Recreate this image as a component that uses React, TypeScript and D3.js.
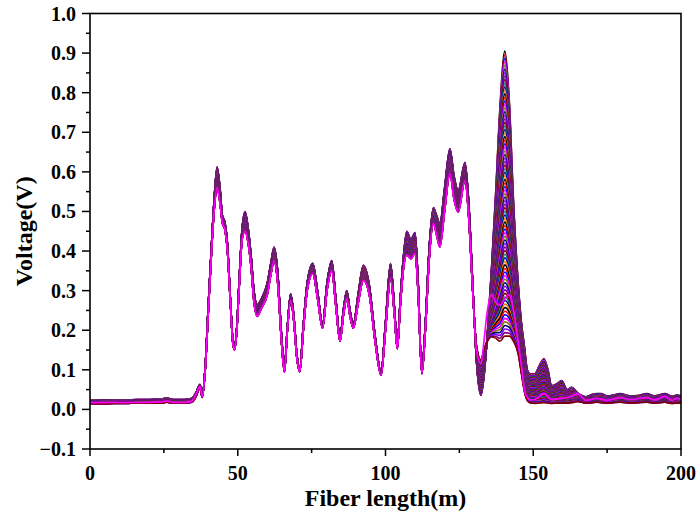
import * as d3 from 'd3'
import { useEffect, useRef } from 'react'

// fiber position (m)
const xs = [
	0, 4, 8, 12, 16, 20, 24, 26, 28, 32,
	34.5, 36, 37.2, 38, 39, 40, 41, 42, 43, 44,
	44.8, 45.6, 46.5, 47.5, 48.3, 48.9, 49.6, 50.5, 51.5, 52.5,
	53.5, 54.5, 55.5, 56.6, 58, 60, 61.2, 62.3, 63.5, 64.8,
	65.8, 66.8, 67.9, 69, 70, 71, 72.2, 73.5, 75.4, 77,
	78.7, 80.2, 81.8, 83.2, 84.6, 85.8, 86.9, 88, 89.1, 90.8,
	92.5, 94.5, 96.5, 98.5, 100, 101.7, 103, 104, 105, 106,
	107.2, 108.6, 110, 111, 112.3, 113.5, 114.8, 116.2, 117.3, 118.4,
	120, 121.8, 123.2, 124.6, 126.9, 128.2, 129.5, 130.8, 132.3, 133.3,
	134.3, 135.9, 137.3, 138.7, 140.4, 141.9, 143.3, 144.9, 146, 147,
	148, 149, 150.5, 152, 153.6, 155, 156.2, 158, 159.6, 161.5,
	163, 165, 167.8, 170, 171.5, 173, 174.9, 177, 179.4, 182.8,
	185.5, 188.4, 191, 194.6, 197, 198.6, 200,
]

// lower edge of the trace bundle (V)
const lowV = [
	0.015, 0.014, 0.015, 0.015, 0.016, 0.016, 0.016, 0.018, 0.016, 0.016,
	0.018, 0.035, 0.055, 0.03, 0.1, 0.24, 0.38, 0.5, 0.56, 0.52,
	0.47, 0.455, 0.4, 0.27, 0.17, 0.15, 0.19, 0.31, 0.43, 0.45,
	0.42, 0.36, 0.27, 0.235, 0.255, 0.29, 0.34, 0.375, 0.32, 0.17,
	0.094, 0.2, 0.275, 0.22, 0.13, 0.095, 0.2, 0.3, 0.343, 0.28,
	0.205, 0.3, 0.35, 0.26, 0.172, 0.24, 0.28, 0.235, 0.205, 0.27,
	0.326, 0.29, 0.17, 0.086, 0.2, 0.33, 0.24, 0.153, 0.26, 0.35,
	0.39, 0.38, 0.394, 0.3, 0.09, 0.2, 0.38, 0.47, 0.44, 0.41,
	0.5, 0.596, 0.53, 0.498, 0.578, 0.48, 0.3, 0.16, 0.125, 0.15,
	0.17, 0.183, 0.18, 0.172, 0.185, 0.185, 0.172, 0.14, 0.09, 0.045,
	0.022, 0.016, 0.015, 0.016, 0.017, 0.016, 0.015, 0.016, 0.016, 0.016,
	0.017, 0.02, 0.016, 0.017, 0.018, 0.017, 0.016, 0.017, 0.018, 0.016,
	0.017, 0.018, 0.016, 0.018, 0.015, 0.016, 0.016,
]

// upper edge of the trace bundle (V)
const topV = [
	0.024, 0.023, 0.024, 0.024, 0.025, 0.025, 0.026, 0.029, 0.025, 0.025,
	0.028, 0.045, 0.063, 0.04, 0.11, 0.26, 0.4, 0.53, 0.613, 0.56,
	0.49, 0.475, 0.42, 0.28, 0.18, 0.16, 0.2, 0.33, 0.46, 0.5,
	0.46, 0.39, 0.3, 0.265, 0.28, 0.32, 0.37, 0.41, 0.35, 0.19,
	0.105, 0.21, 0.292, 0.235, 0.14, 0.105, 0.215, 0.32, 0.369, 0.3,
	0.215, 0.32, 0.376, 0.28, 0.182, 0.255, 0.3, 0.25, 0.215, 0.295,
	0.364, 0.315, 0.185, 0.095, 0.22, 0.369, 0.26, 0.162, 0.28, 0.38,
	0.45, 0.43, 0.447, 0.33, 0.1, 0.22, 0.41, 0.51, 0.49, 0.47,
	0.56, 0.659, 0.59, 0.553, 0.624, 0.52, 0.32, 0.12, 0.035, 0.08,
	0.17, 0.36, 0.55, 0.76, 0.905, 0.78, 0.53, 0.32, 0.22, 0.16,
	0.1, 0.09, 0.09, 0.11, 0.128, 0.1, 0.06, 0.065, 0.073, 0.05,
	0.056, 0.042, 0.032, 0.038, 0.04, 0.04, 0.034, 0.036, 0.04, 0.034,
	0.035, 0.04, 0.034, 0.04, 0.033, 0.036, 0.034,
]

// last (magenta) trace drawn on top (V)
const pinkV = [
	0.018, 0.017, 0.018, 0.017, 0.018, 0.018, 0.019, 0.021, 0.018, 0.018,
	0.021, 0.04, 0.058, 0.032, 0.1, 0.24, 0.38, 0.5, 0.56, 0.52,
	0.47, 0.455, 0.4, 0.27, 0.17, 0.15, 0.19, 0.31, 0.43, 0.45,
	0.42, 0.36, 0.27, 0.235, 0.255, 0.29, 0.34, 0.375, 0.32, 0.17,
	0.094, 0.2, 0.275, 0.22, 0.13, 0.095, 0.2, 0.3, 0.343, 0.28,
	0.205, 0.3, 0.35, 0.26, 0.172, 0.24, 0.28, 0.235, 0.205, 0.27,
	0.326, 0.29, 0.17, 0.086, 0.2, 0.33, 0.24, 0.153, 0.26, 0.35,
	0.39, 0.38, 0.394, 0.3, 0.09, 0.2, 0.38, 0.47, 0.44, 0.41,
	0.5, 0.596, 0.53, 0.498, 0.578, 0.48, 0.3, 0.15, 0.116, 0.17,
	0.24, 0.29, 0.27, 0.263, 0.28, 0.29, 0.25, 0.17, 0.11, 0.05,
	0.03, 0.024, 0.025, 0.032, 0.04, 0.032, 0.025, 0.026, 0.028, 0.03,
	0.034, 0.04, 0.023, 0.026, 0.028, 0.026, 0.023, 0.026, 0.03, 0.025,
	0.027, 0.03, 0.024, 0.033, 0.023, 0.028, 0.025,
]

// position of each recorded trace inside the bundle (0 = lower edge, 1 = upper edge)
const traceLevels = [
	1, 0.9875, 0.975, 0.9625, 0.95, 0.9375, 0.925, 0.9125, 0.9, 0.8875,
	0.875, 0.8625, 0.85, 0.8375, 0.825, 0.8125, 0.8, 0.7875, 0.775, 0.7625,
	0.75, 0.7375, 0.725, 0.7125, 0.7, 0.6875, 0.675, 0.6625, 0.65, 0.6375,
	0.625, 0.6125, 0.6, 0.5875, 0.575, 0.5625, 0.55, 0.5375, 0.525, 0.5125,
	0.5, 0.4875, 0.475, 0.4625, 0.45, 0.4375, 0.425, 0.4125, 0.4, 0.3875,
	0.375, 0.3625, 0.35, 0.3375, 0.325, 0.3125, 0.3, 0.2875, 0.275, 0.2625,
	0.25, 0.2375, 0.225, 0.2125, 0.2, 0.1875, 0.175, 0.1625, 0.15, 0.1375,
	0.125, 0.1125, 0.1, 0.0875, 0.075, 0.0625, 0.05, 0.0375, 0.025, 0.0125, 0,
]

// Origin style colour increment list
const traceColors = [
	'#000000', '#FF0000', '#0000FF', '#FF00FF', '#808000', '#000080',
	'#8000FF', '#800080', '#800000', '#008080', '#0000A0', '#FF8000',
]

const yTicks = [-0.1, 0, 0.1, 0.2, 0.3, 0.4, 0.5, 0.6, 0.7, 0.8, 0.9, 1.0]
const xTicks = [0, 50, 100, 150, 200]

const Chart = () => {
	const svgRef = useRef<SVGSVGElement>(null)

	const width = 697
	const height = 521
	const marginLeft = 90
	const marginRight = 16
	const marginTop = 13.5
	const marginBottom = 72

	useEffect(() => {
		d3.select(svgRef.current).selectAll('*').remove()
		const svg = d3.select(svgRef.current).attr('width', width).attr('height', height)

		const x = d3.scaleLinear().domain([0, 200]).range([marginLeft, width - marginRight])
		const y = d3.scaleLinear().domain([-0.1, 1.0]).range([height - marginBottom, marginTop])

		svg.append('clipPath')
			.attr('id', 'plot-clip')
			.append('rect')
			.attr('x', marginLeft)
			.attr('y', marginTop)
			.attr('width', width - marginLeft - marginRight)
			.attr('height', height - marginTop - marginBottom)

		const line = d3
			.line<number>()
			.curve(d3.curveMonotoneX)
			.x((_, i) => x(xs[i]))
			.y((d) => y(d))

		const g = svg.append('g').attr('clip-path', 'url(#plot-clip)')

		// traces
		traceLevels.forEach((w, k) => {
			const vals = xs.map((_, i) => lowV[i] + w * (topV[i] - lowV[i]))
			g.append('path')
				.attr('d', line(vals))
				.attr('fill', 'none')
				.attr('stroke', traceColors[k % traceColors.length])
				.attr('stroke-width', 1.6)
		})
		g.append('path')
			.attr('d', line(pinkV))
			.attr('fill', 'none')
			.attr('stroke', '#FF00FF')
			.attr('stroke-width', 1.7)

		// frame
		svg.append('rect')
			.attr('x', marginLeft)
			.attr('y', marginTop)
			.attr('width', width - marginLeft - marginRight)
			.attr('height', height - marginTop - marginBottom)
			.attr('fill', 'none')
			.attr('stroke', '#000')
			.attr('stroke-width', 1.6)

		const font = '"Liberation Serif", "Times New Roman", serif'

		// y axis
		const yAxis = svg.append('g')
		yTicks.forEach((t) => {
			yAxis.append('line')
				.attr('x1', marginLeft - 8).attr('x2', marginLeft)
				.attr('y1', y(t)).attr('y2', y(t))
				.attr('stroke', '#000').attr('stroke-width', 1.5)
			yAxis.append('text')
				.attr('x', marginLeft - 14)
				.attr('y', y(t))
				.attr('dy', '0.35em')
				.attr('text-anchor', 'end')
				.attr('font-family', font)
				.attr('font-weight', 'bold')
				.attr('font-size', 20)
				.text(d3.format('.1f')(t))
		})
		yTicks.slice(0, -1).forEach((t) => {
			yAxis.append('line')
				.attr('x1', marginLeft - 4).attr('x2', marginLeft)
				.attr('y1', y(t + 0.05)).attr('y2', y(t + 0.05))
				.attr('stroke', '#000').attr('stroke-width', 1.5)
		})

		// x axis
		const xAxis = svg.append('g')
		const base = height - marginBottom
		xTicks.forEach((t) => {
			xAxis.append('line')
				.attr('x1', x(t)).attr('x2', x(t))
				.attr('y1', base).attr('y2', base + 7)
				.attr('stroke', '#000').attr('stroke-width', 1.5)
			xAxis.append('text')
				.attr('x', x(t))
				.attr('y', base + 31)
				.attr('text-anchor', 'middle')
				.attr('font-family', font)
				.attr('font-weight', 'bold')
				.attr('font-size', 20)
				.text(t)
		})
		xTicks.slice(0, -1).forEach((t) => {
			xAxis.append('line')
				.attr('x1', x(t + 25)).attr('x2', x(t + 25))
				.attr('y1', base).attr('y2', base + 4)
				.attr('stroke', '#000').attr('stroke-width', 1.5)
		})

		// titles
		svg.append('text')
			.attr('x', (marginLeft + width - marginRight) / 2)
			.attr('y', 506)
			.attr('text-anchor', 'middle')
			.attr('font-family', font)
			.attr('font-weight', 'bold')
			.attr('font-size', 24)
			.text('Fiber length(m)')

		svg.append('text')
			.attr('transform', `translate(32, ${(marginTop + height - marginBottom) / 2}) rotate(-90)`)
			.attr('text-anchor', 'middle')
			.attr('font-family', font)
			.attr('font-weight', 'bold')
			.attr('font-size', 24)
			.text('Voltage(V)')
	}, [])

	return <svg ref={svgRef} style={{ position: 'absolute', left: 0, top: 0, background: '#fff' }}></svg>
}

export default function App() {
	return <Chart />
}
